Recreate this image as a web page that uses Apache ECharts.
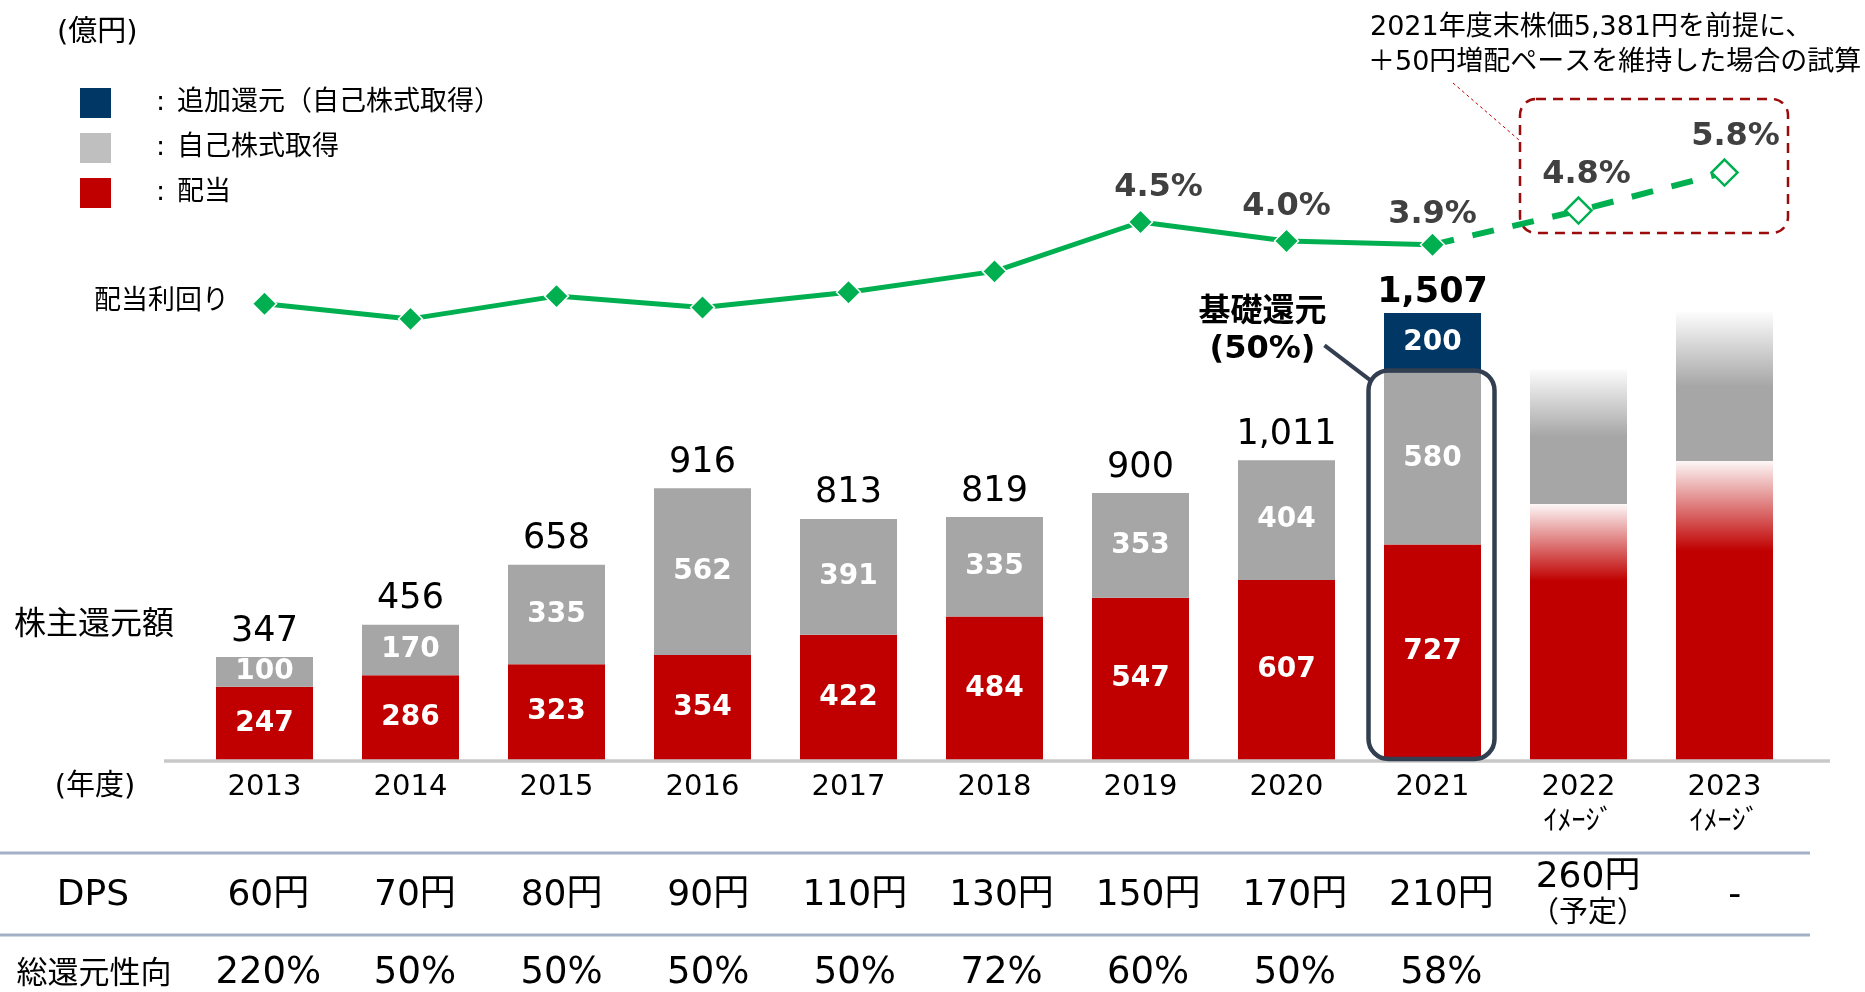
<!DOCTYPE html>
<html>
<head>
<meta charset="utf-8">
<title>株主還元額</title>
<script src="https://cdn.jsdelivr.net/npm/echarts@6/dist/echarts.min.js"></script>
<style>
  html, body { margin: 0; padding: 0; background: #fff; }
  #main { width: 1865px; height: 992px; }
</style>
</head>
<body>
<div id="main"></div>
<script>
// 年度
var years = ['2013', '2014', '2015', '2016', '2017', '2018', '2019', '2020', '2021', '2022', '2023'];
var imageYears = ['2022', '2023'];   // イメージ（見込み）の年度
var baseYear = '2021';               // 基礎還元の枠を付ける年度 / 実績の最終年度
var yieldLabelFrom = '2019';         // 利回りの数値を表示する最初の年度

// 株主還元額（億円）
var dividend = [247, 286, 323, 354, 422, 484, 547, 607, 727, 863, 1008];
var buyback = [100, 170, 335, 562, 391, 335, 353, 404, 580, 455, 502];
var additional = [null, null, null, null, null, null, null, null, 200, null, null];

// 配当利回り（%）
var yieldPct = [2.35, 1.95, 2.55, 2.25, 2.65, 3.2, 4.5, 4.0, 3.9, 4.8, 5.8];

// 表
var dps = ['60円', '70円', '80円', '90円', '110円', '130円', '150円', '170円', '210円', '260円\n（予定）', '-'];
var payout = ['220%', '50%', '50%', '50%', '50%', '72%', '60%', '50%', '58%', '', ''];

var FONT = "'DejaVu Sans', 'Noto Sans CJK JP', sans-serif";
var RED = '#c00000', GREY = '#a6a6a6', NAVY = '#003764', GREEN = '#00b050';

function isImage(y) { return imageYears.indexOf(y) >= 0; }
var baseIdx = years.indexOf(baseYear);
var labelIdx = years.indexOf(yieldLabelFrom);

var totals = years.map(function (y, i) {
  return isImage(y) ? '-' : dividend[i] + buyback[i] + (additional[i] || 0);
});

function fade(rgb, solidAt, solid) {
  return new echarts.graphic.LinearGradient(0, 0, 0, 1, [
    { offset: 0, color: 'rgba(' + rgb + ',0.03)' },
    { offset: solidAt, color: solid },
    { offset: 1, color: solid }
  ]);
}

var segLabel = {
  show: true,
  position: 'inside',
  color: '#fff',
  fontSize: 28,
  fontWeight: 'bold',
  fontFamily: FONT,
  formatter: function (p) { return isImage(p.name) ? '' : p.value; }
};

// 利回りラベルのずれ [x, y]
var yieldLabelShift = { '2019': [18, 0], '2021': [0, 5], '2022': [8, 0], '2023': [11, 0] };
var yieldLabel = {
  position: 'top',
  distance: 6,
  color: '#404040',
  fontSize: 32,
  fontWeight: 'bold',
  fontFamily: FONT,
  formatter: function (p) { return p.value.toFixed(1) + '%'; }
};

var solidYield = yieldPct.map(function (v, i) {
  if (i > baseIdx) return '-';
  return {
    value: v,
    label: { show: i >= labelIdx, offset: yieldLabelShift[years[i]] || [0, 0] }
  };
});
var planYield = yieldPct.map(function (v, i) {
  if (i < baseIdx) return '-';
  if (i === baseIdx) return { value: v, symbol: 'none', label: { show: false } };
  return { value: v, label: { show: true, offset: yieldLabelShift[years[i]] || [0, 0] } };
});

var hidden = { show: false };

var chart = echarts.init(document.getElementById('main'));

chart.setOption({
  animation: false,
  backgroundColor: '#fff',
  legend: {
    orient: 'vertical',
    left: 75,
    top: 83,
    itemWidth: 31,
    itemHeight: 30,
    itemGap: 15,
    selectedMode: false,
    icon: 'rect',
    data: [
      { name: '追加還元（自己株式取得）' },
      { name: '自己株式取得', itemStyle: { color: '#bfbfbf' } },
      { name: '配当' }
    ],
    formatter: function (name) { return '{c|:}{t|' + name + '}'; },
    textStyle: {
      fontSize: 27,
      color: '#000',
      fontFamily: FONT,
      rich: {
        c: { fontSize: 27, fontFamily: FONT, color: '#000', padding: [0, 12, 0, 40] },
        t: { fontSize: 27, fontFamily: FONT, color: '#000' }
      }
    }
  },
  grid: [
    { left: 191.5, right: 67.5, top: 285.5, bottom: 232 },   // 棒グラフ
    { left: 191.5, right: 67.5, top: 165, bottom: 599 },     // 配当利回り
    { left: 195, right: 57, top: 285.5, bottom: 232 }        // 表
  ],
  xAxis: [
    {
      type: 'category', gridIndex: 0, position: 'bottom', data: years,
      axisLine: hidden, axisTick: hidden,
      axisLabel: {
        interval: 0, margin: 10,
        formatter: function (v) {
          return isImage(v) ? '{y|' + v + '}\n{s|ｲﾒｰｼﾞ}' : '{y|' + v + '}';
        },
        rich: {
          y: { fontSize: 29, lineHeight: 35, color: '#000', fontFamily: FONT },
          s: { fontSize: 28, lineHeight: 35, color: '#000', fontFamily: FONT }
        }
      }
    },
    { type: 'category', gridIndex: 1, data: years, show: false },
    {
      type: 'category', gridIndex: 2, position: 'bottom', data: years,
      axisLine: hidden, axisTick: hidden,
      axisLabel: {
        interval: 0, margin: 136, verticalAlign: 'middle',
        formatter: function (v, i) {
          var parts = dps[i].split('\n');
          return '{a|' + parts[0] + '}' + (parts[1] ? '\n{b|' + parts[1] + '}' : '');
        },
        rich: {
          a: { fontSize: 36, lineHeight: 37, color: '#000', fontFamily: FONT },
          b: { fontSize: 29, lineHeight: 37, color: '#000', fontFamily: FONT }
        }
      }
    },
    {
      type: 'category', gridIndex: 2, position: 'bottom', data: years,
      axisLine: hidden, axisTick: hidden,
      axisLabel: {
        interval: 0, margin: 213, verticalAlign: 'middle',
        fontSize: 37, color: '#000', fontFamily: FONT,
        formatter: function (v, i) { return payout[i]; }
      }
    }
  ],
  yAxis: [
    { type: 'value', gridIndex: 0, min: 0, max: 1600, show: false },
    { type: 'value', gridIndex: 1, min: 0, max: 6, show: false },
    { type: 'value', gridIndex: 2, min: 0, max: 1600, show: false }
  ],
  series: [
    {
      name: '配当', type: 'bar', stack: 'total', barWidth: 97, barGap: '-100%',
      itemStyle: { color: RED },
      label: segLabel,
      data: dividend.map(function (v, i) {
        return isImage(years[i]) ? { value: v, itemStyle: { color: fade('192,0,0', 0.3, RED) } } : v;
      })
    },
    {
      name: '自己株式取得', type: 'bar', stack: 'total', barWidth: 97, barGap: '-100%',
      itemStyle: { color: GREY },
      label: segLabel,
      data: buyback.map(function (v, i) {
        return isImage(years[i]) ? { value: v, itemStyle: { color: fade('166,166,166', 0.5, GREY) } } : v;
      })
    },
    {
      name: '追加還元（自己株式取得）', type: 'bar', stack: 'total', barWidth: 97, barGap: '-100%',
      itemStyle: { color: NAVY },
      label: segLabel,
      data: additional.map(function (v) { return v == null ? '-' : v; })
    },
    {
      name: '合計', type: 'bar', barWidth: 97, barGap: '-100%', silent: true,
      itemStyle: { color: 'rgba(0,0,0,0)' },
      label: {
        show: true, position: 'top', distance: 8,
        fontSize: 35, color: '#000', fontFamily: FONT,
        formatter: function (p) { return p.value.toLocaleString('en-US'); }
      },
      data: totals.map(function (v, i) {
        return i === baseIdx ? { value: v, label: { fontWeight: 'bold', distance: 3 } } : v;
      })
    },
    {
      name: '配当利回り', type: 'line', xAxisIndex: 1, yAxisIndex: 1,
      symbol: 'diamond', symbolSize: 24,
      lineStyle: { color: GREEN, width: 5 },
      itemStyle: { color: GREEN, borderColor: '#fff', borderWidth: 1.5 },
      label: yieldLabel,
      z: 5,
      data: solidYield
    },
    {
      name: '配当利回り（試算）', type: 'line', xAxisIndex: 1, yAxisIndex: 1,
      symbol: 'diamond', symbolSize: 26,
      lineStyle: { color: GREEN, width: 6, type: [22, 19] },
      itemStyle: { color: '#fff', borderColor: GREEN, borderWidth: 2.5 },
      label: yieldLabel,
      z: 5,
      data: planYield
    }
  ]
});

// 基礎還元の枠（2021年度の配当＋自己株式取得）
var topPt = chart.convertToPixel({ gridIndex: 0 }, [baseYear, dividend[baseIdx] + buyback[baseIdx]]);
var basePt = chart.convertToPixel({ gridIndex: 0 }, [baseYear, 0]);
var cx = topPt[0], ty = topPt[1];

function txt(text, x, y, size, opts) {
  opts = opts || {};
  return {
    type: 'text', z: 10,
    style: {
      text: text, x: x, y: y,
      font: (opts.weight || 'normal') + ' ' + size + 'px ' + FONT,
      fill: opts.color || '#000',
      align: opts.align || 'left',
      verticalAlign: 'middle'
    }
  };
}

chart.setOption({
  graphic: [
    // 軸線
    { type: 'line', z: 8, shape: { x1: 164, y1: 761, x2: 1830, y2: 761 }, style: { stroke: '#c8c8c8', lineWidth: 3.5 } },
    // 表の罫線
    { type: 'line', shape: { x1: 0, y1: 853, x2: 1810, y2: 853 }, style: { stroke: '#a3b1c6', lineWidth: 3 } },
    { type: 'line', shape: { x1: 0, y1: 935, x2: 1810, y2: 935 }, style: { stroke: '#a3b1c6', lineWidth: 3 } },

    txt('(億円)', 57, 33, 29),
    txt('配当利回り', 94, 302, 27),
    txt('株主還元額', 14, 626, 32),
    txt('(年度)', 95, 787, 29, { align: 'center' }),
    txt('DPS', 93, 896, 36, { align: 'center' }),
    txt('総還元性向', 94, 975, 31, { align: 'center' }),

    // 試算の注記
    txt('2021年度末株価5,381円を前提に、', 1370, 28, 27),
    txt('＋50円増配ペースを維持した場合の試算', 1368, 63, 27),
    { type: 'line', shape: { x1: 1453, y1: 83, x2: 1519, y2: 140 }, style: { stroke: RED, lineWidth: 1, lineDash: [3, 3] } },
    {
      type: 'rect', z: 3,
      shape: { x: 1520, y: 99, width: 268, height: 134, r: 16 },
      style: { fill: 'none', stroke: '#9b0b0b', lineWidth: 2.5, lineDash: [10, 7] }
    },

    // 基礎還元
    {
      type: 'rect', z: 9,
      shape: { x: cx - 64, y: ty - 2, width: 126, height: basePt[1] - ty + 1, r: 20 },
      style: { fill: 'none', stroke: '#333f50', lineWidth: 4.5 }
    },
    { type: 'line', z: 9, shape: { x1: cx - 108, y1: ty - 27, x2: cx - 62, y2: ty + 8 }, style: { stroke: '#333f50', lineWidth: 4 } },
    txt('基礎還元', cx - 170, ty - 60, 32, { weight: 'bold', align: 'center' }),
    txt('(50%)', cx - 170, ty - 23, 32, { weight: 'bold', align: 'center' })
  ]
});
</script>
</body>
</html>
